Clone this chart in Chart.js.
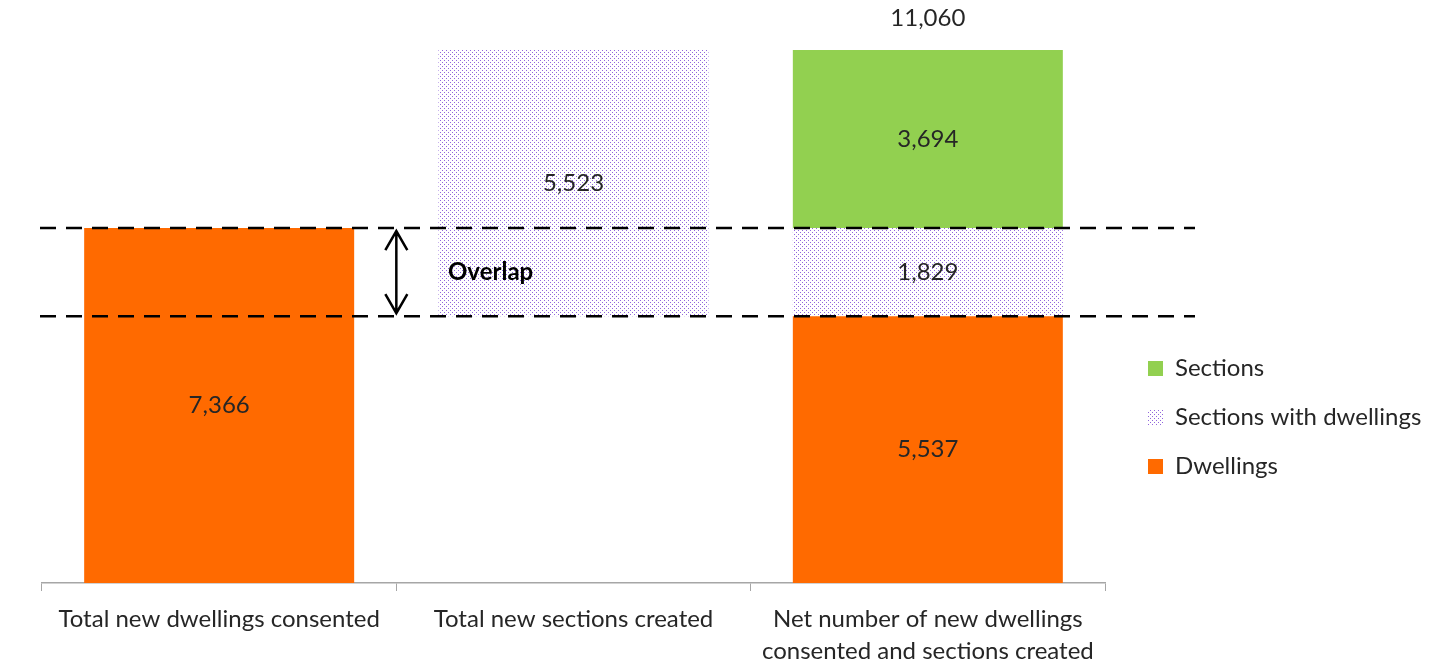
<!DOCTYPE html>
<html lang="en">
<head>
  <meta charset="UTF-8">
  <title>New dwellings and sections</title>
  <script src="https://cdn.jsdelivr.net/npm/chart.js"></script>
  <style>
    html, body {
      margin: 0;
      padding: 0;
      background: #fff;
    }
    #wrap {
      width: 1435px;
      height: 661px;
    }
  </style>
</head>
<body>
  <div id="wrap"><canvas id="chart" width="1435" height="661"></canvas></div>

  <script>
    const categories = [
      'Total new dwellings consented',
      'Total new sections created',
      ['Net number of new dwellings', 'consented and sections created']
    ];
    // invisible base that lifts the sections bar up to where dwellings stop
    const offset = [null, 5537, null];
    const dwellings = [7366, null, 5537];
    const sectionsWithDwellings = [null, 5523, 1829];
    const sections = [null, null, 3694];
    const yMax = 11060;

    const FONT = 'Lato, "Open Sans", sans-serif';

    // purple dotted fill for the "sections with dwellings" series
    function dotPattern() {
      const c = document.createElement('canvas');
      c.width = 4;
      c.height = 4;
      const g = c.getContext('2d');
      g.fillStyle = '#ffffff';
      g.fillRect(0, 0, 4, 4);
      g.fillStyle = '#9166dc';
      g.fillRect(0, 0, 1, 1);
      g.fillRect(2, 2, 1, 1);
      return g.createPattern(c, 'repeat');
    }

    const ctx = document.getElementById('chart').getContext('2d');
    const dots = dotPattern();

    const fmt = v => v.toLocaleString('en-US');

    const overlay = {
      id: 'overlay',
      afterDatasetsDraw(chart) {
        const c = chart.ctx;
        const y = chart.scales.y;
        const x = chart.scales.x;

        // value labels centred in each visible segment
        c.save();
        c.font = '24px ' + FONT;
        c.fillStyle = '#262626';
        c.textAlign = 'center';
        c.textBaseline = 'middle';
        chart.data.datasets.forEach((ds, di) => {
          if (ds.hidden || ds.label === 'offset') return;
          const meta = chart.getDatasetMeta(di);
          meta.data.forEach((bar, i) => {
            const v = ds.data[i];
            if (v == null) return;
            c.fillText(fmt(v), bar.x, (bar.y + bar.base) / 2);
          });
        });

        // stack total above the last bar
        const last = categories.length - 1;
        const total = dwellings[last] + sectionsWithDwellings[last] + sections[last];
        const topBar = chart.getDatasetMeta(3).data[last];
        c.fillText(fmt(total), topBar.x, y.getPixelForValue(total) - 32);
        c.restore();

        // dashed band marking the overlap
        const yHi = y.getPixelForValue(dwellings[0]);
        const yLo = y.getPixelForValue(dwellings[2]);
        c.save();
        c.strokeStyle = '#000';
        c.lineWidth = 2.5;
        c.setLineDash([16, 10]);
        [yHi, yLo].forEach(py => {
          c.beginPath();
          c.moveTo(40, py);
          c.lineTo(1195, py);
          c.stroke();
        });
        c.setLineDash([]);

        // double-headed arrow on the boundary between first two categories
        const ax = (x.getPixelForValue(0) + x.getPixelForValue(1)) / 2;
        c.lineWidth = 2.5;
        c.beginPath();
        c.moveTo(ax, yHi + 3);
        c.lineTo(ax, yLo - 3);
        c.moveTo(ax - 11, yHi + 22);
        c.lineTo(ax, yHi + 3);
        c.lineTo(ax + 11, yHi + 22);
        c.moveTo(ax - 11, yLo - 22);
        c.lineTo(ax, yLo - 3);
        c.lineTo(ax + 11, yLo - 22);
        c.stroke();

        c.font = 'bold 24px ' + FONT;
        c.fillStyle = '#000';
        c.textAlign = 'left';
        c.textBaseline = 'middle';
        c.fillText('Overlap', 448, (yHi + yLo) / 2);
        c.restore();

        // legend, top series first
        c.save();
        c.font = '24px ' + FONT;
        c.textBaseline = 'middle';
        const items = chart.data.datasets.filter(d => d.label !== 'offset').reverse();
        items.forEach((d, i) => {
          const cy = 368 + i * 49;
          c.fillStyle = d.backgroundColor;
          c.fillRect(1148, cy - 7, 15, 15);
          c.fillStyle = '#262626';
          c.fillText(d.label, 1175, cy);
        });
        c.restore();
      }
    };

    new Chart(ctx, {
      type: 'bar',
      data: {
        labels: categories,
        datasets: [
          { label: 'offset', data: offset, backgroundColor: 'rgba(0,0,0,0)' },
          { label: 'Dwellings', data: dwellings, backgroundColor: '#ff6a00' },
          { label: 'Sections with dwellings', data: sectionsWithDwellings, backgroundColor: dots },
          { label: 'Sections', data: sections, backgroundColor: '#92d050' }
        ]
      },
      options: {
        responsive: false,
        animation: false,
        events: [],
        layout: { padding: { left: 42, right: 330, top: 50, bottom: 0 } },
        datasets: {
          bar: { categoryPercentage: 1, barPercentage: 0.762 }
        },
        plugins: {
          legend: { display: false },
          tooltip: { enabled: false }
        },
        scales: {
          x: {
            stacked: true,
            // fixed axis band so the baseline sits where the labels need it
            afterFit(scale) { scale.height = 78; },
            grid: {
              offset: true,
              drawOnChartArea: false,
              tickLength: 8,
              color: '#a6a6a6'
            },
            border: { color: '#a6a6a6', width: 1.5 },
            ticks: {
              color: '#262626',
              font: { family: FONT, size: 24, lineHeight: 1.3 },
              padding: 13,
              maxRotation: 0
            }
          },
          y: {
            stacked: true,
            display: false,
            min: 0,
            max: yMax
          }
        }
      },
      plugins: [overlay]
    });
  </script>
</body>
</html>
